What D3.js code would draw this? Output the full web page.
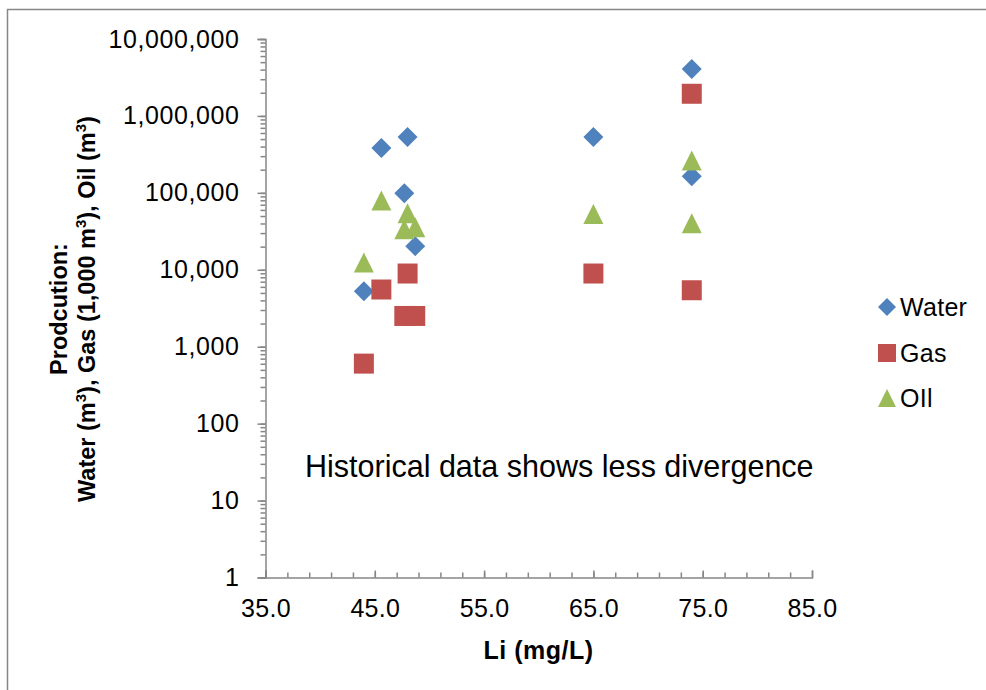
<!DOCTYPE html>
<html>
<head>
<meta charset="utf-8">
<script src="https://cdn.jsdelivr.net/npm/d3@7"></script>
<style>
  body { margin: 0; background: #fff; }
  svg text { font-family: "Liberation Sans", Arial, sans-serif; fill: #000; }
</style>
</head>
<body>
<div id="chart"></div>
<script>
(function () {
  "use strict";

  // Li concentration per well (mg/L)
  var liValues = [44.0, 45.6, 47.7, 48.0, 48.7, 65.0, 74.0, 74.0];
  // production per well
  var waterValues = [5250, 382000, 99000, 531000, 20300, 531000, 4070000, 165000];
  var gasValues = [603, 5540, 2510, 8940, 2510, 8940, 1941000, 5420];
  var oilValues = [12400, 79800, 33700, 54400, 35800, 53300, 263000, 40300];

  var seriesNames = ['Water', 'Gas', 'OIl'];
  var seriesColors = ['#4F81BD', '#C0504D', '#9BBB59'];
  var xTickLabels = [35, 45, 55, 65, 75, 85];
  var yTickLabels = [1, 10, 100, 1000, 10000, 100000, 1000000, 10000000];

  var width = 986, height = 690;
  var axisColor = '#868686';

  var svg = d3.select('#chart')
    .append('svg')
    .attr('width', width)
    .attr('height', height);

  // outer chart border (runs off the right/bottom edge)
  svg.append('rect')
    .attr('x', 7.5).attr('y', 9.5)
    .attr('width', 1000).attr('height', 700)
    .attr('fill', 'none')
    .attr('stroke', axisColor)
    .attr('stroke-width', 1.5);

  var x = d3.scaleLinear().domain([35, 85]).range([265.5, 812]);
  var y = d3.scaleLog().domain([1, 1e7]).range([577.5, 39]);

  // y axis: minor ticks first, then decades with labels
  svg.append('g')
    .attr('transform', 'translate(265.5,0)')
    .call(d3.axisLeft(y).tickValues(y.ticks()).tickSize(5).tickFormat(''))
    .call(function (g) { g.select('.domain').remove(); });

  var yAxis = svg.append('g')
    .attr('transform', 'translate(265.5,0)')
    .call(d3.axisLeft(y).tickValues(yTickLabels).tickSize(8).tickPadding(18).tickFormat(d3.format(',')));
  yAxis.selectAll('text')
    .style('font-size', '25px')
    .style('letter-spacing', '0.6px');

  // x axis, ticks point up into the plot
  var minorX = d3.range(37, 85, 2);
  svg.append('g')
    .attr('transform', 'translate(0,577.5)')
    .call(d3.axisBottom(x).tickValues(minorX).tickSize(-5).tickFormat(''))
    .call(function (g) { g.select('.domain').remove(); });

  var xAxis = svg.append('g')
    .attr('transform', 'translate(0,577.5)')
    .call(d3.axisBottom(x).tickValues(xTickLabels).tickSize(-7).tickPadding(22).tickFormat(d3.format('.1f')));
  xAxis.selectAll('text')
    .style('font-size', '25px')
    .style('letter-spacing', '0.3px');

  svg.selectAll('.domain, .tick line').attr('stroke', axisColor).attr('stroke-width', 1.5);
  svg.selectAll('.tick text').attr('fill', '#000');

  // markers: diamond, square, triangle (20px boxes)
  var shapes = [
    'M0,-10L10,0L0,10L-10,0Z',
    'M-10,-10H10V10H-10Z',
    'M0,-10L10,10H-10Z'
  ];
  var allSeries = [waterValues, gasValues, oilValues];

  allSeries.forEach(function (vals, si) {
    svg.append('g')
      .selectAll('path')
      .data(vals)
      .enter()
        .append('path')
        .attr('d', shapes[si])
        .attr('fill', seriesColors[si])
        .attr('transform', function (d, i) {
          return 'translate(' + x(liValues[i]) + ',' + y(d) + ')';
        });
  });

  // annotation
  svg.append('text')
    .attr('x', 305).attr('y', 477)
    .style('font-size', '30.5px')
    .text('Historical data shows less divergence');

  // axis titles
  svg.append('text')
    .attr('x', 538.5).attr('y', 659)
    .attr('text-anchor', 'middle')
    .style('font-size', '25px')
    .style('font-weight', 'bold')
    .style('letter-spacing', '0.5px')
    .text('Li (mg/L)');

  var yTitle = svg.append('text')
    .attr('transform', 'rotate(-90)')
    .attr('text-anchor', 'middle')
    .style('font-size', '23.5px')
    .style('font-weight', 'bold');
  yTitle.append('tspan').attr('x', -309).attr('y', 67).text('Prodcution:');
  var line2 = yTitle.append('tspan').attr('x', -309).attr('y', 95);
  // (text, superscript?) pieces
  [['Water (m', 0], ['3', 1], ['), Gas (1,000 m', 0], ['3', 1], ['), Oil (m', 0], ['3', 1], [')', 0]]
    .forEach(function (p) {
      var t = line2.append('tspan').text(p[0]);
      if (p[1]) {
        t.attr('dy', -9).style('font-size', '15px');
      } else if (line2.selectAll('tspan').size() > 1) {
        t.attr('dy', 9);
      }
    });

  // legend
  var legend = svg.append('g').attr('transform', 'translate(887,0)');
  var legendY = [307, 353, 398];
  var legendShapes = [
    'M0,-9L9,0L0,9L-9,0Z',
    'M-9,-9H9V9H-9Z',
    'M0,-9L9,9H-9Z'
  ];
  seriesNames.forEach(function (name, i) {
    legend.append('path')
      .attr('d', legendShapes[i])
      .attr('fill', seriesColors[i])
      .attr('transform', 'translate(0,' + legendY[i] + ')');
    legend.append('text')
      .attr('x', 13).attr('y', legendY[i] + 9)
      .style('font-size', '25px')
      .style('letter-spacing', '0.3px')
      .text(name);
  });
}());
</script>
</body>
</html>
